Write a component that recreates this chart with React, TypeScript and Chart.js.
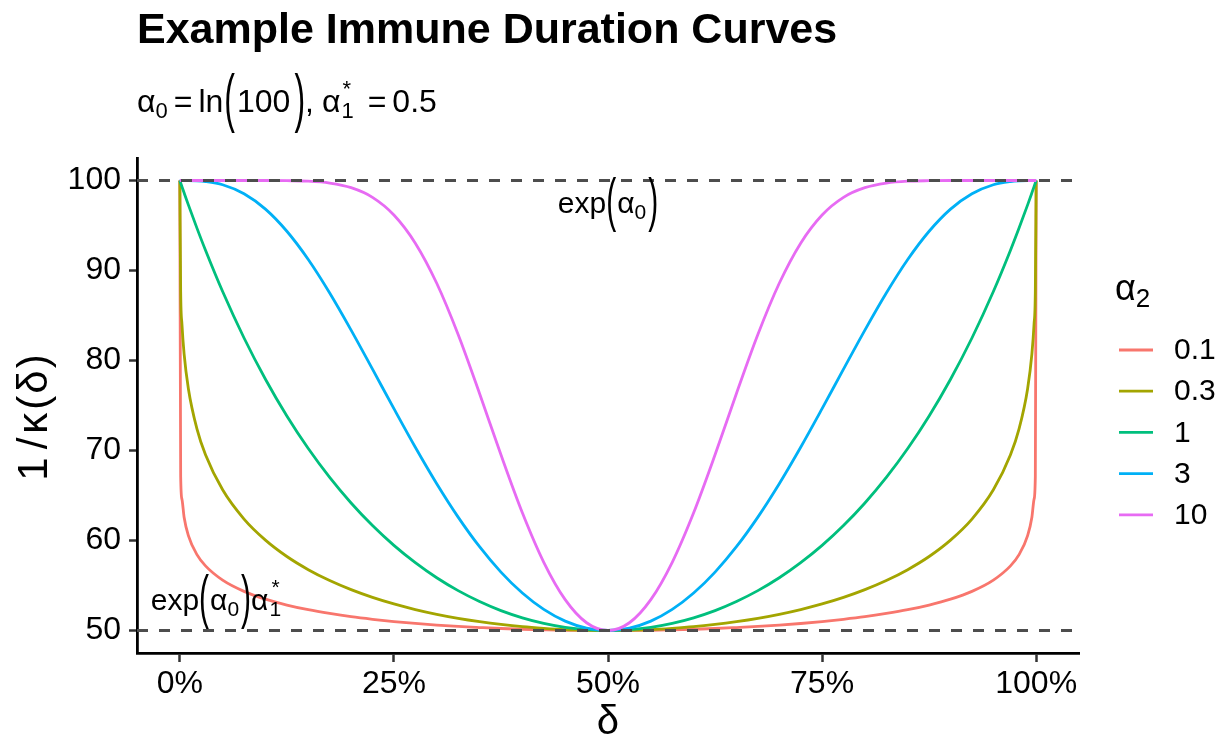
import React, { useEffect, useRef } from 'react';
import { Chart, registerables } from 'chart.js';

Chart.register(...registerables);

const FONT = '"Liberation Sans", Arial, Helvetica, sans-serif';

// delta (share of the interval)
const deltaGrid = [
  0, 0.001, 0.0025, 0.005, 0.01, 0.02, 0.03, 0.05, 0.075, 0.1, 0.125, 0.15, 0.175, 0.2, 0.225, 0.25,
  0.275, 0.3, 0.325, 0.35, 0.375, 0.4, 0.425, 0.45, 0.475, 0.5,
  0.525, 0.55, 0.575, 0.6, 0.625, 0.65, 0.675, 0.7, 0.725, 0.75, 0.775, 0.8, 0.825, 0.85, 0.875,
  0.9, 0.925, 0.95, 0.97, 0.98, 0.99, 0.995, 0.9975, 0.999, 1,
];

const alpha2Labels = ['0.1', '0.3', '1', '3', '10'];

const curveA01 = [
  100, 67.1, 64.58, 62.59, 60.54, 58.43, 57.18, 55.6, 54.35, 53.48, 52.83, 52.31, 51.89, 51.53, 51.24, 50.99,
  50.78, 50.6, 50.45, 50.33, 50.22, 50.14, 50.08, 50.03, 50.01, 50.0,
  50.01, 50.03, 50.08, 50.14, 50.22, 50.33, 50.45, 50.6, 50.78, 50.99, 51.24, 51.53, 51.89, 52.31, 52.83,
  53.48, 54.35, 55.6, 57.18, 58.43, 60.54, 62.59, 64.58, 67.1, 100,
];
const curveA03 = [
  100, 87.61, 84.03, 80.73, 76.87, 72.4, 69.52, 65.63, 62.38, 60.04, 58.22, 56.76, 55.55, 54.54, 53.68, 52.95,
  52.33, 51.8, 51.35, 50.98, 50.67, 50.42, 50.24, 50.1, 50.03, 50.0,
  50.03, 50.1, 50.24, 50.42, 50.67, 50.98, 51.35, 51.8, 52.33, 52.95, 53.68, 54.54, 55.55, 56.76, 58.22,
  60.04, 62.38, 65.63, 69.52, 72.4, 76.87, 80.73, 84.03, 87.61, 100,
];
const curveA1 = [
  100, 99.72, 99.31, 98.63, 97.29, 94.71, 92.25, 87.66, 82.5, 77.92, 73.84, 70.22, 67.01, 64.17, 61.66, 59.46,
  57.54, 55.86, 54.43, 53.22, 52.21, 51.41, 50.79, 50.35, 50.09, 50.0,
  50.09, 50.35, 50.79, 51.41, 52.21, 53.22, 54.43, 55.86, 57.54, 59.46, 61.66, 64.17, 67.01, 70.22, 73.84,
  77.92, 82.5, 87.66, 92.25, 94.71, 97.29, 98.63, 99.31, 99.72, 100,
];
const curveA3 = [
  100, 100, 100, 100, 100, 99.97, 99.89, 99.53, 98.53, 96.82, 94.36, 91.22, 87.5, 83.38, 79.04, 74.65,
  70.36, 66.31, 62.6, 59.31, 56.49, 54.16, 52.34, 51.04, 50.26, 50.0,
  50.26, 51.04, 52.34, 54.16, 56.49, 59.31, 62.6, 66.31, 70.36, 74.65, 79.04, 83.38, 87.5, 91.22, 94.36,
  96.82, 98.53, 99.53, 99.89, 99.97, 100, 100, 100, 100, 100,
];
const curveA10 = [
  100, 100, 100, 100, 100, 100, 100, 100, 100, 100, 99.98, 99.92, 99.71, 99.2, 98.13, 96.17,
  93.04, 88.58, 82.89, 76.34, 69.52, 63.08, 57.58, 53.43, 50.86, 50.0,
  50.86, 53.43, 57.58, 63.08, 69.52, 76.34, 82.89, 88.58, 93.04, 96.17, 98.13, 99.2, 99.71, 99.92, 99.98,
  100, 100, 100, 100, 100, 100, 100, 100, 100, 100,
];

const seriesValues = [curveA01, curveA03, curveA1, curveA3, curveA10];
const seriesColors = ['#F8766D', '#A3A500', '#00BF7D', '#00B0F6', '#E76BF3'];

const refLevels = [100, 50];
const xLimits = [-0.05, 1.05];
const yLimits = [47.5, 102.5];
const xTickValues = [0, 0.25, 0.5, 0.75, 1];
const yTickValues = [50, 60, 70, 80, 90, 100];

type Tok = {
  t: string;
  size: number;
  dy?: number;
  paren?: number;
  gap?: number;
  overlay?: boolean;
  dx?: number;
  bold?: boolean;
};

function setFont(ctx: CanvasRenderingContext2D, k: Tok) {
  ctx.font = `${k.bold ? 'bold ' : ''}${k.size}px ${FONT}`;
}

function layoutMath(ctx: CanvasRenderingContext2D, toks: Tok[]) {
  let x = 0;
  let prevStart = 0;
  const pos: number[] = [];
  for (const k of toks) {
    setFont(ctx, k);
    const w = ctx.measureText(k.t).width;
    if (k.overlay) {
      const s = prevStart + (k.dx || 0);
      pos.push(s);
      x = Math.max(x, s + w);
    } else {
      x += k.gap || 0;
      pos.push(x);
      prevStart = x;
      x += w;
    }
  }
  return { pos, width: x };
}

function drawMath(
  ctx: CanvasRenderingContext2D,
  toks: Tok[],
  x: number,
  y: number,
  align: 'left' | 'center',
) {
  const { pos, width } = layoutMath(ctx, toks);
  const x0 = align === 'center' ? x - width / 2 : x;
  ctx.textAlign = 'left';
  ctx.textBaseline = 'alphabetic';
  toks.forEach((k, i) => {
    setFont(ctx, k);
    const px = x0 + pos[i];
    const py = y + (k.dy || 0);
    if (k.paren) {
      const c = 0.26 * k.size;
      ctx.save();
      ctx.translate(px, py - c);
      ctx.scale(1, k.paren);
      ctx.fillText(k.t, 0, c);
      ctx.restore();
    } else {
      ctx.fillText(k.t, px, py);
    }
  });
}

const subtitleToks: Tok[] = [
  { t: 'α', size: 32 },
  { t: '0', size: 22, dy: 6 },
  { t: '=', size: 32, gap: 6 },
  { t: 'ln', size: 32, gap: 6 },
  { t: '(', size: 32, paren: 2.0, gap: 1 },
  { t: '100', size: 32, gap: 2 },
  { t: ')', size: 32, paren: 2.0, gap: 4 },
  { t: ',', size: 32 },
  { t: 'α', size: 32, gap: 8 },
  { t: '1', size: 22, dy: 6, gap: 1 },
  { t: '*', size: 22, dy: -16, overlay: true, dx: 1 },
  { t: '=', size: 32, gap: 14 },
  { t: '0.5', size: 32, gap: 6 },
];

const annotTopToks: Tok[] = [
  { t: 'exp', size: 30 },
  { t: '(', size: 30, paren: 2.0 },
  { t: 'α', size: 30, gap: 1 },
  { t: '0', size: 21, dy: 6 },
  { t: ')', size: 30, paren: 2.0, gap: 2 },
];

const annotBottomToks: Tok[] = [
  { t: 'exp', size: 30 },
  { t: '(', size: 30, paren: 2.0 },
  { t: 'α', size: 30, gap: 1 },
  { t: '0', size: 21, dy: 6 },
  { t: ')', size: 30, paren: 2.0, gap: 2 },
  { t: 'α', size: 30 },
  { t: '1', size: 21, dy: 6, gap: 1 },
  { t: '*', size: 21, dy: -16, overlay: true, dx: 2 },
];

const yTitleToks: Tok[] = [
  { t: '1', size: 42 },
  { t: '/', size: 42, gap: 8 },
  { t: 'κ', size: 42, gap: 4 },
  { t: '(', size: 42, gap: 3 },
  { t: 'δ', size: 42, gap: 2 },
  { t: ')', size: 42, gap: 2 },
];

const legendTitleToks: Tok[] = [
  { t: 'α', size: 36 },
  { t: '2', size: 26, dy: 7 },
];

const decorPlugin = {
  id: 'decor',
  afterDraw(chart: Chart) {
    const ctx = chart.ctx;
    ctx.save();
    ctx.fillStyle = '#000';

    // title
    ctx.font = `bold 43px ${FONT}`;
    ctx.textAlign = 'left';
    ctx.textBaseline = 'alphabetic';
    ctx.fillText('Example Immune Duration Curves', 137, 43);

    // subtitle
    drawMath(ctx, subtitleToks, 137, 112, 'left');

    // annotations, placed through the scales
    const xs = chart.scales.x;
    const ys = chart.scales.y;
    drawMath(ctx, annotTopToks, xs.getPixelForValue(0.5), ys.getPixelForValue(100) + 32, 'center');
    drawMath(ctx, annotBottomToks, xs.getPixelForValue(-0.034), ys.getPixelForValue(50) - 21, 'left');

    // x axis title
    ctx.font = `40px ${FONT}`;
    ctx.textAlign = 'center';
    ctx.textBaseline = 'alphabetic';
    ctx.fillText('δ', (chart.chartArea.left + chart.chartArea.right) / 2, 734);

    // y axis title (rotated)
    ctx.save();
    ctx.translate(47, (chart.chartArea.top + chart.chartArea.bottom) / 2 + 12);
    ctx.rotate(-Math.PI / 2);
    drawMath(ctx, yTitleToks, 0, 0, 'center');
    ctx.restore();

    // legend
    drawMath(ctx, legendTitleToks, 1115, 300, 'left');
    alpha2Labels.forEach((lab, i) => {
      const y = 350 + i * 41.2;
      ctx.strokeStyle = seriesColors[i];
      ctx.lineWidth = 2.8;
      ctx.beginPath();
      ctx.moveTo(1119, y);
      ctx.lineTo(1153, y);
      ctx.stroke();
      ctx.fillStyle = '#000';
      ctx.font = `30px ${FONT}`;
      ctx.textAlign = 'left';
      ctx.textBaseline = 'middle';
      ctx.fillText(lab, 1174, y + 1);
    });
    ctx.restore();
  },
};

export default function App() {
  const canvasRef = useRef<HTMLCanvasElement | null>(null);

  useEffect(() => {
    if (!canvasRef.current) return;
    const curveSets = seriesValues.map((vals, i) => ({
      type: 'line' as const,
      label: alpha2Labels[i],
      data: deltaGrid.map((d, j) => ({ x: d, y: vals[j] })),
      borderColor: seriesColors[i],
      backgroundColor: seriesColors[i],
      borderWidth: 2.8,
      pointRadius: 0,
      fill: false,
      cubicInterpolationMode: 'monotone' as const,
      order: seriesValues.length - i,
    }));
    const refSets = refLevels.map((lvl) => ({
      type: 'line' as const,
      label: `ref ${lvl}`,
      data: xLimits.map((x) => ({ x, y: lvl })),
      borderColor: '#4d4d4d',
      borderWidth: 2.8,
      borderDash: [11, 11],
      pointRadius: 0,
      fill: false,
      order: 0,
    }));

    const chart = new Chart(canvasRef.current, {
      type: 'line',
      data: { datasets: [...curveSets, ...refSets] },
      options: {
        animation: false,
        responsive: false,
        devicePixelRatio: 1,
        layout: { padding: { top: 158, right: 146, left: 0, bottom: 0 } },
        plugins: {
          legend: { display: false },
          title: { display: false },
          tooltip: { enabled: false },
        },
        scales: {
          x: {
            type: 'linear',
            min: xLimits[0],
            max: xLimits[1],
            afterBuildTicks: (s: any) => {
              s.ticks = xTickValues.map((v) => ({ value: v }));
            },
            afterFit: (s: any) => {
              s.height = 85;
            },
            ticks: {
              callback: (v: any) => `${Math.round(Number(v) * 100)}%`,
              font: { family: FONT, size: 32 },
              color: '#000',
              padding: 3,
              maxRotation: 0,
              autoSkip: false,
            },
            grid: {
              drawOnChartArea: false,
              drawTicks: true,
              tickLength: 9,
              tickColor: '#333',
              tickWidth: 2.5,
            },
            border: { display: true, color: '#000', width: 2.8 },
          },
          y: {
            type: 'linear',
            min: yLimits[0],
            max: yLimits[1],
            afterBuildTicks: (s: any) => {
              s.ticks = yTickValues.map((v) => ({ value: v }));
            },
            afterFit: (s: any) => {
              s.width = 137;
            },
            ticks: {
              font: { family: FONT, size: 32 },
              color: '#000',
              padding: 8,
              autoSkip: false,
            },
            grid: {
              drawOnChartArea: false,
              drawTicks: true,
              tickLength: 8,
              tickColor: '#333',
              tickWidth: 2.5,
            },
            border: { display: true, color: '#000', width: 2.8 },
          },
        },
      },
      plugins: [decorPlugin as any],
    });
    return () => chart.destroy();
  }, []);

  return (
    <div style={{ position: 'absolute', left: 0, top: 0, width: 1225, height: 738, background: '#fff' }}>
      <canvas ref={canvasRef} width={1225} height={738} />
    </div>
  );
}
